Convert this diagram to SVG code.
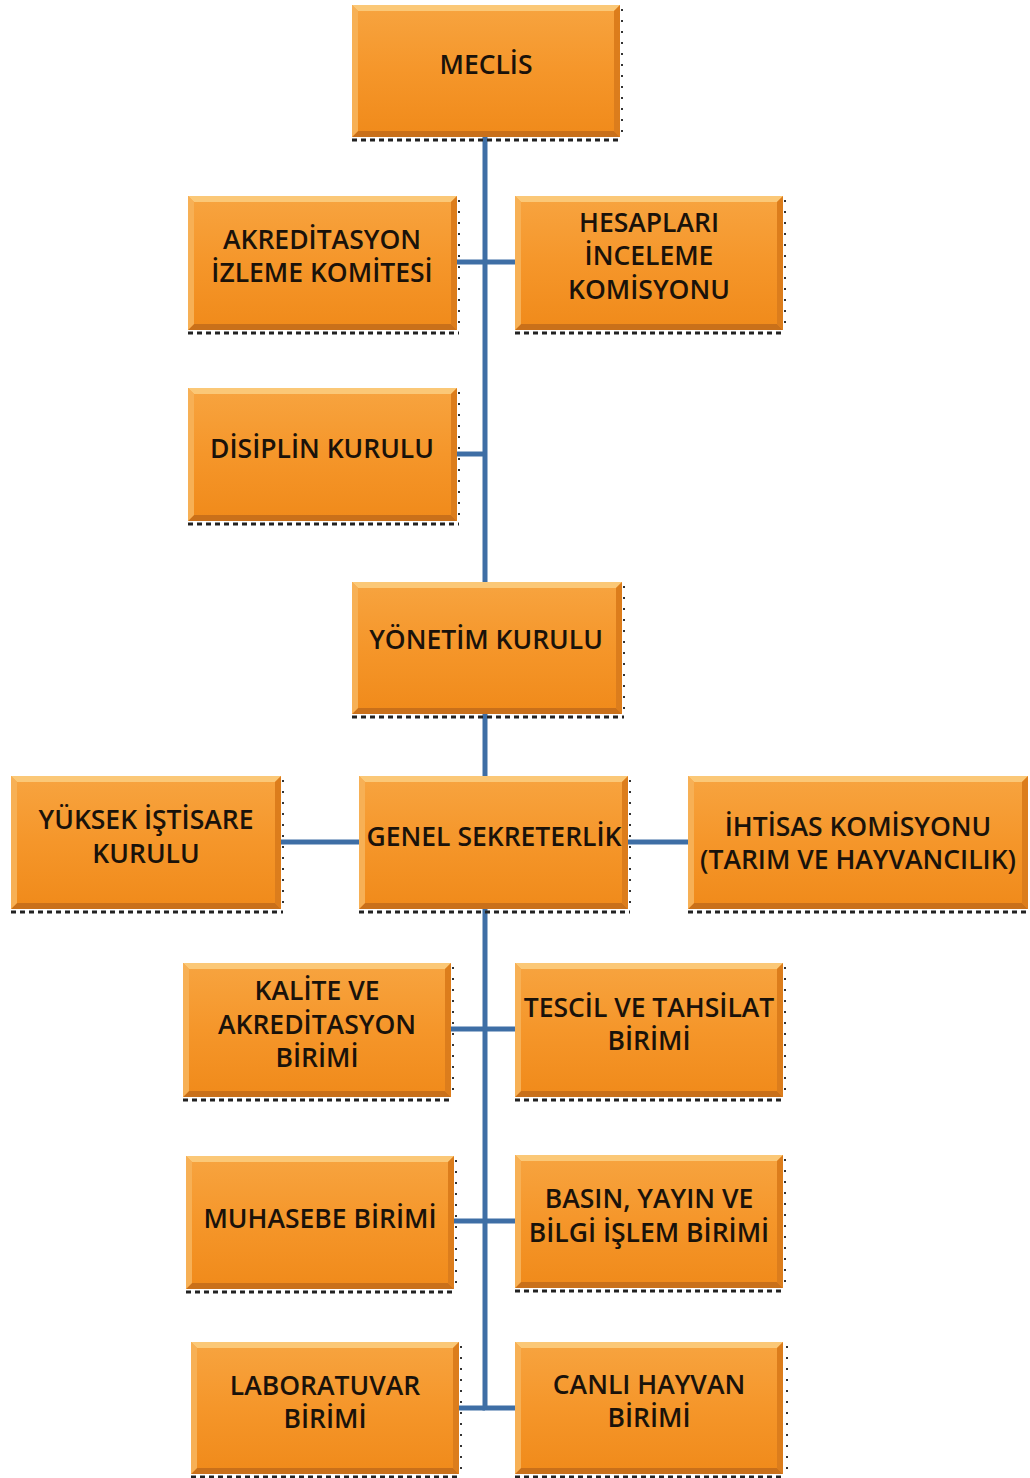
<svg xmlns="http://www.w3.org/2000/svg" width="1030" height="1478" viewBox="0 0 1030 1478">
<defs>
<linearGradient id="fillG" x1="0" y1="0" x2="0" y2="1">
<stop offset="0" stop-color="#f7a440"/>
<stop offset="0.5" stop-color="#f5962a"/>
<stop offset="1" stop-color="#f08a1a"/>
</linearGradient>
<style>
.box{fill:url(#fillG);}
.bt{fill:#fbc877;}
.bb{fill:#c9701a;}
.bl{fill:#f7b055;}
.br{fill:#dc7d1c;}
.sh{stroke:#222;stroke-width:3;stroke-dasharray:5 4;fill:none;}
.sr{stroke:#333;stroke-width:2;stroke-dasharray:2 9;fill:none;}
.t{font-family:"Open Sans","Liberation Sans",sans-serif;font-weight:600;font-size:26.5px;fill:#1a120a;text-anchor:middle;}
.c{stroke:#3e6ea5;stroke-width:5;fill:none;}
</style>
</defs>

<g id="connectors">
<path class="c" d="M485 137 V582"/>
<path class="c" d="M457 262 H515"/>
<path class="c" d="M457 454 H485"/>
<path class="c" d="M485 714 V776"/>
<path class="c" d="M281 842 H359"/>
<path class="c" d="M628 842 H688"/>
<path class="c" d="M485 909 V1408 H515"/>
<path class="c" d="M451 1029 H515"/>
<path class="c" d="M454 1221 H515"/>
<path class="c" d="M459 1408 H485"/>
</g>

<g id="meclis" transform="translate(352,5)">
<rect class="box" width="268" height="132"/>
<polygon class="bt" points="0,0 268,0 262,6 6,6"/>
<polygon class="bb" points="0,132 268,132 262,126 6,126"/>
<polygon class="bl" points="0,0 6,6 6,126 0,132"/>
<polygon class="br" points="268,0 262,6 262,126 268,132"/>
<line class="sh" x1="0" y1="135" x2="270" y2="135"/><line class="sr" x1="270" y1="4" x2="270" y2="134"/>
<text class="t" x="134" y="69">MECLİS</text>
</g>

<g id="akreditasyon" transform="translate(188,196)">
<rect class="box" width="269" height="134"/>
<polygon class="bt" points="0,0 269,0 263,6 6,6"/>
<polygon class="bb" points="0,134 269,134 263,128 6,128"/>
<polygon class="bl" points="0,0 6,6 6,128 0,134"/>
<polygon class="br" points="269,0 263,6 263,128 269,134"/>
<line class="sh" x1="0" y1="137" x2="271" y2="137"/><line class="sr" x1="271" y1="4" x2="271" y2="136"/>
<text class="t" x="134" y="53">AKREDİTASYON</text>
<text class="t" x="134" y="86">İZLEME KOMİTESİ</text>
</g>

<g id="hesaplari" transform="translate(515,196)">
<rect class="box" width="268" height="134"/>
<polygon class="bt" points="0,0 268,0 262,6 6,6"/>
<polygon class="bb" points="0,134 268,134 262,128 6,128"/>
<polygon class="bl" points="0,0 6,6 6,128 0,134"/>
<polygon class="br" points="268,0 262,6 262,128 268,134"/>
<line class="sh" x1="0" y1="137" x2="270" y2="137"/><line class="sr" x1="270" y1="4" x2="270" y2="136"/>
<text class="t" x="134" y="36">HESAPLARI</text>
<text class="t" x="134" y="69">İNCELEME</text>
<text class="t" x="134" y="103">KOMİSYONU</text>
</g>

<g id="disiplin" transform="translate(188,388)">
<rect class="box" width="269" height="133"/>
<polygon class="bt" points="0,0 269,0 263,6 6,6"/>
<polygon class="bb" points="0,133 269,133 263,127 6,127"/>
<polygon class="bl" points="0,0 6,6 6,127 0,133"/>
<polygon class="br" points="269,0 263,6 263,127 269,133"/>
<line class="sh" x1="0" y1="136" x2="271" y2="136"/><line class="sr" x1="271" y1="4" x2="271" y2="135"/>
<text class="t" x="134" y="70">DİSİPLİN KURULU</text>
</g>

<g id="yonetim" transform="translate(352,582)">
<rect class="box" width="270" height="132"/>
<polygon class="bt" points="0,0 270,0 264,6 6,6"/>
<polygon class="bb" points="0,132 270,132 264,126 6,126"/>
<polygon class="bl" points="0,0 6,6 6,126 0,132"/>
<polygon class="br" points="270,0 264,6 264,126 270,132"/>
<line class="sh" x1="0" y1="135" x2="272" y2="135"/><line class="sr" x1="272" y1="4" x2="272" y2="134"/>
<text class="t" x="134" y="67">YÖNETİM KURULU</text>
</g>

<g id="yuksek" transform="translate(11,776)">
<rect class="box" width="270" height="133"/>
<polygon class="bt" points="0,0 270,0 264,6 6,6"/>
<polygon class="bb" points="0,133 270,133 264,127 6,127"/>
<polygon class="bl" points="0,0 6,6 6,127 0,133"/>
<polygon class="br" points="270,0 264,6 264,127 270,133"/>
<line class="sh" x1="0" y1="136" x2="272" y2="136"/><line class="sr" x1="272" y1="4" x2="272" y2="135"/>
<text class="t" x="135" y="53">YÜKSEK İŞTİSARE</text>
<text class="t" x="135" y="87">KURULU</text>
</g>

<g id="genel" transform="translate(359,776)">
<rect class="box" width="269" height="133"/>
<polygon class="bt" points="0,0 269,0 263,6 6,6"/>
<polygon class="bb" points="0,133 269,133 263,127 6,127"/>
<polygon class="bl" points="0,0 6,6 6,127 0,133"/>
<polygon class="br" points="269,0 263,6 263,127 269,133"/>
<line class="sh" x1="0" y1="136" x2="271" y2="136"/><line class="sr" x1="271" y1="4" x2="271" y2="135"/>
<text class="t" x="135" y="70">GENEL SEKRETERLİK</text>
</g>

<g id="ihtisas" transform="translate(688,776)">
<rect class="box" width="340" height="133"/>
<polygon class="bt" points="0,0 340,0 334,6 6,6"/>
<polygon class="bb" points="0,133 340,133 334,127 6,127"/>
<polygon class="bl" points="0,0 6,6 6,127 0,133"/>
<polygon class="br" points="340,0 334,6 334,127 340,133"/>
<line class="sh" x1="0" y1="136" x2="340" y2="136"/>
<text class="t" x="170" y="60">İHTİSAS KOMİSYONU</text>
<text class="t" x="170" y="93">(TARIM VE HAYVANCILIK)</text>
</g>

<g id="kalite" transform="translate(183,963)">
<rect class="box" width="268" height="134"/>
<polygon class="bt" points="0,0 268,0 262,6 6,6"/>
<polygon class="bb" points="0,134 268,134 262,128 6,128"/>
<polygon class="bl" points="0,0 6,6 6,128 0,134"/>
<polygon class="br" points="268,0 262,6 262,128 268,134"/>
<line class="sh" x1="0" y1="137" x2="270" y2="137"/><line class="sr" x1="270" y1="4" x2="270" y2="136"/>
<text class="t" x="134" y="37">KALİTE VE</text>
<text class="t" x="134" y="71">AKREDİTASYON</text>
<text class="t" x="134" y="104">BİRİMİ</text>
</g>

<g id="tescil" transform="translate(515,963)">
<rect class="box" width="268" height="134"/>
<polygon class="bt" points="0,0 268,0 262,6 6,6"/>
<polygon class="bb" points="0,134 268,134 262,128 6,128"/>
<polygon class="bl" points="0,0 6,6 6,128 0,134"/>
<polygon class="br" points="268,0 262,6 262,128 268,134"/>
<line class="sh" x1="0" y1="137" x2="270" y2="137"/><line class="sr" x1="270" y1="4" x2="270" y2="136"/>
<text class="t" x="134" y="54">TESCİL VE TAHSİLAT</text>
<text class="t" x="134" y="87">BİRİMİ</text>
</g>

<g id="muhasebe" transform="translate(186,1156)">
<rect class="box" width="268" height="133"/>
<polygon class="bt" points="0,0 268,0 262,6 6,6"/>
<polygon class="bb" points="0,133 268,133 262,127 6,127"/>
<polygon class="bl" points="0,0 6,6 6,127 0,133"/>
<polygon class="br" points="268,0 262,6 262,127 268,133"/>
<line class="sh" x1="0" y1="136" x2="270" y2="136"/><line class="sr" x1="270" y1="4" x2="270" y2="135"/>
<text class="t" x="134" y="72">MUHASEBE BİRİMİ</text>
</g>

<g id="basin" transform="translate(515,1155)">
<rect class="box" width="268" height="133"/>
<polygon class="bt" points="0,0 268,0 262,6 6,6"/>
<polygon class="bb" points="0,133 268,133 262,127 6,127"/>
<polygon class="bl" points="0,0 6,6 6,127 0,133"/>
<polygon class="br" points="268,0 262,6 262,127 268,133"/>
<line class="sh" x1="0" y1="136" x2="270" y2="136"/><line class="sr" x1="270" y1="4" x2="270" y2="135"/>
<text class="t" x="134" y="53">BASIN, YAYIN VE</text>
<text class="t" x="134" y="87">BİLGİ İŞLEM BİRİMİ</text>
</g>

<g id="laboratuvar" transform="translate(191,1342)">
<rect class="box" width="268" height="132"/>
<polygon class="bt" points="0,0 268,0 262,6 6,6"/>
<polygon class="bb" points="0,132 268,132 262,126 6,126"/>
<polygon class="bl" points="0,0 6,6 6,126 0,132"/>
<polygon class="br" points="268,0 262,6 262,126 268,132"/>
<line class="sh" x1="0" y1="135" x2="270" y2="135"/><line class="sr" x1="270" y1="4" x2="270" y2="134"/>
<text class="t" x="134" y="53">LABORATUVAR</text>
<text class="t" x="134" y="86">BİRİMİ</text>
</g>

<g id="canli" transform="translate(515,1342)">
<rect class="box" width="268" height="132"/>
<polygon class="bt" points="0,0 268,0 262,6 6,6"/>
<polygon class="bb" points="0,132 268,132 262,126 6,126"/>
<polygon class="bl" points="0,0 6,6 6,126 0,132"/>
<polygon class="br" points="268,0 262,6 262,126 268,132"/>
<line class="sh" x1="0" y1="135" x2="270" y2="135"/><line class="sr" x1="272" y1="4" x2="272" y2="134"/>
<text class="t" x="134" y="52">CANLI HAYVAN</text>
<text class="t" x="134" y="85">BİRİMİ</text>
</g>
</svg>
